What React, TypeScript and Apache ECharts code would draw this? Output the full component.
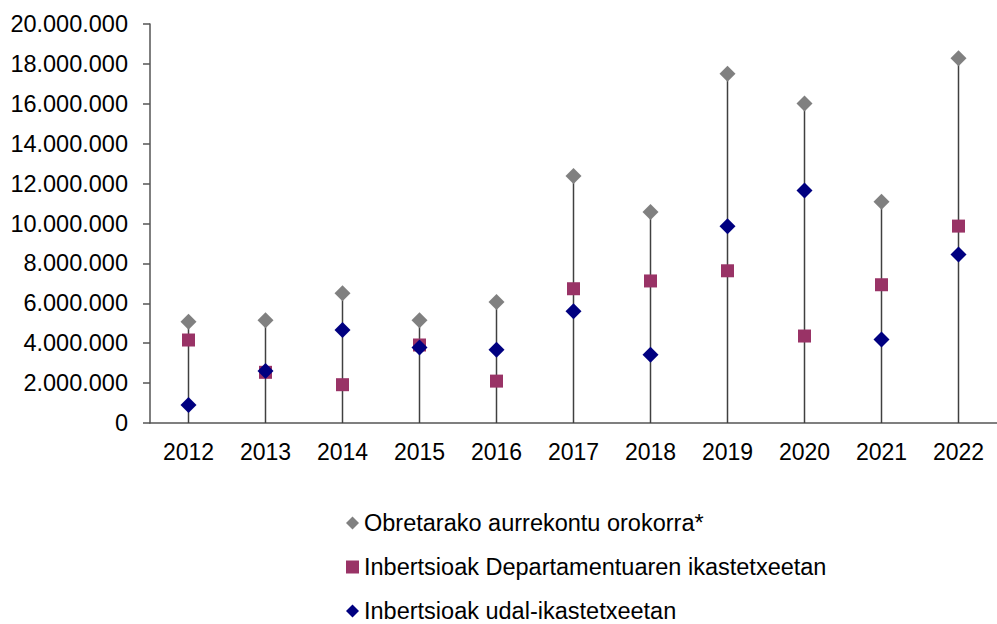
import React, { useEffect, useRef } from "react";
import * as echarts from "echarts";

const years = ["2012", "2013", "2014", "2015", "2016", "2017", "2018", "2019", "2020", "2021", "2022"];
const seriesNames = [
  "Obretarako aurrekontu orokorra*",
  "Inbertsioak Departamentuaren ikastetxeetan",
  "Inbertsioak udal-ikastetxeetan",
];
const budgetTotal = [5080000, 5150000, 6500000, 5150000, 6070000, 12380000, 10580000, 17510000, 16020000, 11090000, 18280000];
const deptInvest = [4160000, 2540000, 1920000, 3910000, 2100000, 6730000, 7120000, 7630000, 4360000, 6930000, 9870000];
const municipalInvest = [900000, 2610000, 4660000, 3790000, 3670000, 5600000, 3420000, 9860000, 11660000, 4190000, 8440000];

const FONT = "'Liberation Sans', Arial, sans-serif";

const fmt = (v: number) => String(Math.round(v)).replace(/\B(?=(\d{3})+(?!\d))/g, ".");

export default function App() {
  const ref = useRef<HTMLDivElement>(null);
  useEffect(() => {
    if (!ref.current) return;
    const chart = echarts.init(ref.current, undefined, { renderer: "svg" });
    const maxima = years.map((_, i) => Math.max(budgetTotal[i], deptInvest[i], municipalInvest[i]));
    chart.setOption({
      animation: false,
      backgroundColor: "#ffffff",
      textStyle: { fontFamily: FONT },
      grid: { left: 150, top: 24, height: 399, width: 858 },
      xAxis: {
        type: "category",
        data: years,
        axisLine: { lineStyle: { color: "#555555", width: 1.5 } },
        axisTick: { show: false },
        axisLabel: { fontSize: 23, color: "#000000", margin: 17, fontFamily: FONT },
        splitLine: { show: false },
      },
      yAxis: {
        type: "value",
        min: 0,
        max: 20000000,
        interval: 2000000,
        axisLine: { show: true, lineStyle: { color: "#555555", width: 1.5 } },
        axisTick: { show: true, length: 7, lineStyle: { color: "#555555", width: 1.5 } },
        axisLabel: { fontSize: 23.5, color: "#000000", margin: 22, formatter: fmt, fontFamily: FONT },
        splitLine: { show: false },
      },
      legend: {
        orient: "vertical",
        left: 341,
        top: 506,
        height: 118,
        width: 650,
        itemWidth: 13,
        itemHeight: 13,
        itemGap: 20,
        selectedMode: false,
        textStyle: { fontSize: 23.5, color: "#000000", fontFamily: FONT, lineHeight: 24 },
        data: [
          { name: seriesNames[0], icon: "diamond", itemStyle: { color: "#808080", opacity: 1 } },
          { name: seriesNames[1], icon: "rect", itemStyle: { color: "#993366", opacity: 1 } },
          { name: seriesNames[2], icon: "diamond", itemStyle: { color: "#000080", opacity: 1 } },
        ],
      },
      series: [
        {
          type: "bar",
          name: "drop",
          data: maxima,
          barWidth: 1.5,
          itemStyle: { color: "#404040" },
          silent: true,
          z: 1,
        },
        {
          type: "scatter",
          name: seriesNames[0],
          data: budgetTotal,
          symbol: "diamond",
          symbolSize: 16,
          itemStyle: { color: "#808080", opacity: 1 },
          z: 3,
        },
        {
          type: "scatter",
          name: seriesNames[1],
          data: deptInvest,
          symbol: "rect",
          symbolSize: 13,
          itemStyle: { color: "#993366", opacity: 1 },
          z: 3,
        },
        {
          type: "scatter",
          name: seriesNames[2],
          data: municipalInvest,
          symbol: "diamond",
          symbolSize: 16,
          itemStyle: { color: "#000080", opacity: 1 },
          z: 4,
        },
      ],
    });
    return () => chart.dispose();
  }, []);
  return (
    <div
      ref={ref}
      style={{ position: "fixed", left: 0, top: 0, width: 997, height: 624, background: "#fff" }}
    />
  );
}
